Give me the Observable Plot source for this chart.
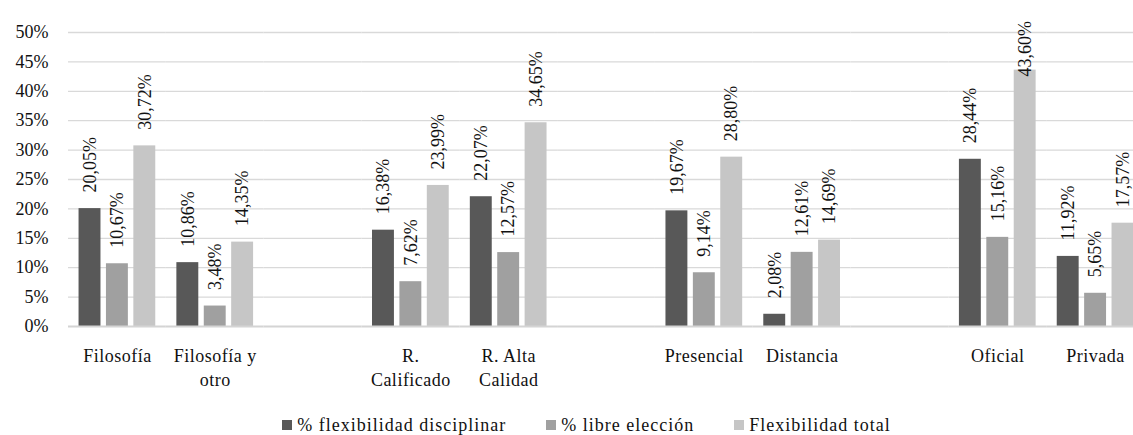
<!DOCTYPE html>
<html>
<head>
<meta charset="utf-8">
<script src="https://cdn.jsdelivr.net/npm/d3@7"></script>
<script src="https://cdn.jsdelivr.net/npm/@observablehq/plot@0.6"></script>
<style>
  body { margin: 0; background: #fff; font-family: "Liberation Serif", "Times New Roman", Tinos, "DejaVu Serif", serif; }
  #chart svg { overflow: visible; }
  #chart [aria-label="fx-axis tick label"] { letter-spacing: 0.5px; }
  #legend { display: flex; justify-content: center; width: 1173px; margin-top: 23px; font-size: 18px; color: #111; gap: 40px; line-height: 20px; letter-spacing: 1px; }
  .item { display: flex; align-items: center; }
  .sw { width: 10px; height: 10px; margin-right: 5px; }
</style>
</head>
<body>
<div id="chart"></div>
<div id="legend"></div>
<script>
const categories = ["Filosofía", "Filosofía y otro", "R. Calificado", "R. Alta Calidad", "Presencial", "Distancia", "Oficial", "Privada"];
const series = ["% flexibilidad disciplinar", "% libre elección", "Flexibilidad total"];
const flexDisciplinar = [20.05, 10.86, 16.38, 22.07, 19.67, 2.08, 28.44, 11.92];
const libreEleccion = [10.67, 3.48, 7.62, 12.57, 9.14, 12.61, 15.16, 5.65];
const flexTotal = [30.72, 14.35, 23.99, 34.65, 28.80, 14.69, 43.60, 17.57];
const yTicks = [0, 5, 10, 15, 20, 25, 30, 35, 40, 45, 50];
const colors = ["#585858", "#a0a0a0", "#c6c6c6"];

// category slots, with empty slots separating the pairs
const slots = ["Filosofía", "Filosofía y otro", "gap1", "R. Calificado", "R. Alta Calidad", "gap2", "Presencial", "Distancia", "gap3", "Oficial", "Privada"];
const tickText = {"Filosofía y otro": "Filosofía y\notro", "R. Calificado": "R.\nCalificado", "R. Alta Calidad": "R. Alta\nCalidad"};

const FONT = "'Liberation Serif', 'Times New Roman', Tinos, 'DejaVu Serif', serif";

const values = [flexDisciplinar, libreEleccion, flexTotal];
const data = categories.flatMap((c, i) => series.map((s, j) => ({cat: c, serie: s, value: values[j][i]})));
const grid = slots.flatMap(s => yTicks.map(t => ({slot: s, tick: t})));

const fmt = v => v.toFixed(2).replace(".", ",") + "%";
const labelCap = 39.8; // labels are kept inside the plot area

const plot = Plot.plot({
  width: 1133,
  height: 392,
  marginLeft: 68,
  marginRight: -11,
  marginTop: 32,
  marginBottom: 66,
  style: {fontFamily: FONT, fontSize: "18px", color: "#111", background: "#fff", overflow: "visible"},
  fx: {domain: slots, padding: 0, round: false, label: null},
  x: {domain: series, paddingInner: 0.2, paddingOuter: 0.385, round: false, axis: null},
  y: {domain: [0, 50], label: null},
  color: {domain: series, range: colors},
  marks: [
    Plot.ruleY(grid.filter(d => d.tick > 0), {fx: "slot", y: "tick", stroke: "#d9d9d9", strokeWidth: 1.3}),
    Plot.axisY({ticks: yTicks, tickFormat: d => d + "%", tickSize: 0, tickPadding: 20, label: null, fill: "#111"}),
    Plot.axisFx({anchor: "bottom", tickSize: 0, tickPadding: 19, label: null, lineHeight: 1.33, fill: "#111",
      tickFormat: s => s.startsWith("gap") ? "" : (tickText[s] || s)}),
    Plot.barY(data, {fx: "cat", x: "serie", y: "value", fill: "serie", inset: 0}),
    Plot.ruleY(grid.filter(d => d.tick === 0), {fx: "slot", y: "tick", stroke: "#d4d4d4", strokeWidth: 2.2}),
    Plot.text(data, {fx: "cat", x: "serie", y: d => Math.min(d.value, labelCap), text: d => fmt(d.value),
      rotate: -90, textAnchor: "start", dy: -16, fill: "#111", fontSize: 18})
  ]
});
document.getElementById("chart").appendChild(plot);

const legend = document.getElementById("legend");
series.forEach((s, i) => {
  const item = document.createElement("div");
  item.className = "item";
  const sw = document.createElement("span");
  sw.className = "sw";
  sw.style.background = colors[i];
  const t = document.createElement("span");
  t.textContent = s;
  item.appendChild(sw);
  item.appendChild(t);
  legend.appendChild(item);
});
</script>
</body>
</html>
